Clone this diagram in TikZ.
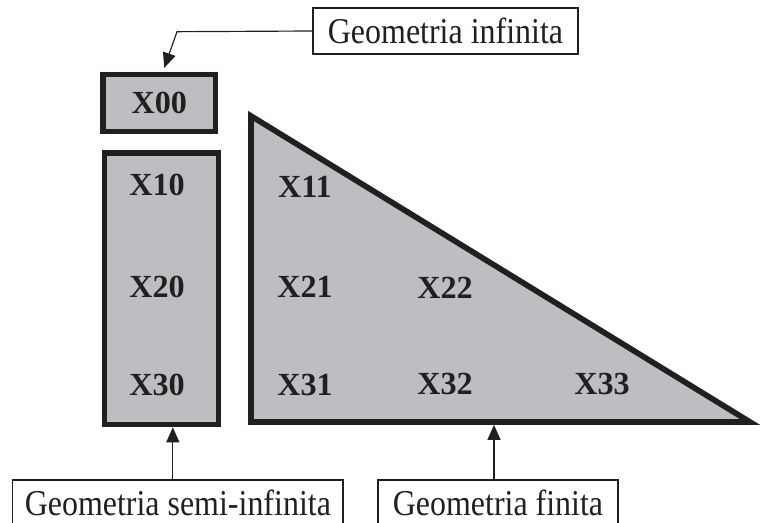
\documentclass[tikz,border=0pt]{standalone}
\usepackage{fontspec}
\setmainfont{Liberation Serif}
\newfontfamily\geomfont{Liberation Serif}[FakeStretch=0.88]
\usepackage{xcolor}
\usetikzlibrary{arrows.meta,calc,positioning}
\definecolor{cellgray}{RGB}{189,190,194}
\definecolor{inkblack}{RGB}{35,31,32}

\begin{document}
\begin{tikzpicture}[x=0.3mm,y=0.3mm,
    cell/.style={draw=inkblack,fill=cellgray,line width=1.7mm,inner sep=0pt},
    var/.style={font=\fontsize{27.5}{30}\selectfont\bfseries,text=inkblack,inner sep=0pt},
    geom/.style={draw=inkblack,fill=white,line width=0.35mm,minimum height=13.8mm,
      inner sep=0pt,text=inkblack,font=\geomfont\fontsize{31}{34}\selectfont},
    pointer/.style={draw=inkblack,line width=0.35mm,-{Triangle[length=4.5mm,width=3.9mm]}}]
  \useasboundingbox (0,0) rectangle (762,523);
  \clip (0,0) rectangle (762,523);
  % infinite and semi-infinite cells
  \node[cell,var,minimum width=33.75mm,minimum height=17.1mm] (x00) at (159.25,420) {X00};
  \node[cell,minimum width=34.2mm,minimum height=81.45mm] (col) at (161.5,234.25) {};
  \node[var] (x10) at (157,338) {X10};
  \node[var] (x20) at (157,236) {X20};
  \node[var] (x30) at (157,138) {X30};
  % finite triangle
  \coordinate (apex) at (251,407);
  \coordinate (corner) at (251,101);
  \coordinate (tip) at (750,101);
  \draw[cell,line join=miter] (apex) -- (corner) -- (tip) -- cycle;
  \node[var] (x11) at (305,336) {X11};
  \node[var] (x21) at (305,236) {X21};
  \node[var] (x31) at (305,138) {X31};
  \node[var] (x22) at (445,235.5) {X22};
  \node[var] (x32) at (445,139) {X32};
  \node[var] (x33) at (602,139) {X33};
  % captions
  \node[geom,minimum width=79.5mm] (inf) at (445.5,492) {Geometria infinita};
  \node[geom,minimum width=99.1mm] (semi) at (177.85,20) {Geometria semi-infinita};
  \node[geom,minimum width=72mm] (fin) at (498,20) {Geometria finita};
  \coordinate (elbow) at (177,491.3);
  \draw[pointer,shorten >=1.2mm] (inf.west) -- (elbow) -- ([xshift=1.1mm]x00.north);
  \draw[pointer] ([xshift=-1.5mm]semi.north) -- ([xshift=-1.5mm]semi.north |- col.south);
  \draw[pointer,shorten >=0.85mm] ([xshift=-1.2mm]fin.north) -- ([xshift=-1.2mm]fin.north |- corner);
\end{tikzpicture}
\end{document}
